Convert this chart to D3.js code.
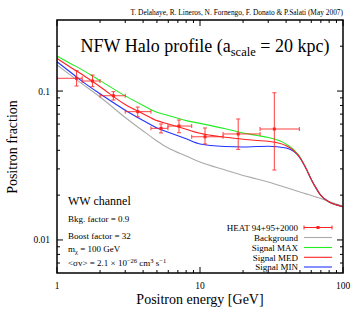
<!DOCTYPE html>
<html><head><meta charset="utf-8">
<script src="https://cdn.jsdelivr.net/npm/d3@7"></script>
<style>body{margin:0;background:#fff;}</style>
</head><body><svg id="c" width="360" height="315" font-family="'Liberation Serif', 'DejaVu Serif', serif"></svg>
<script>
// ---- data ----
const heatE     = [1.37, 1.77, 2.48, 3.67, 5.34, 7.13, 10.84, 18.5, 33.1];
const heatELow  = [1.0, 1.5, 2.0, 3.0, 4.54, 5.97, 8.75, 14.5, 26.3];
const heatEHigh = [1.5, 2.0, 3.0, 4.54, 5.97, 8.75, 14.5, 26.3, 49.5];
const heatF     = [0.1218, 0.1168, 0.0930, 0.0727, 0.0562, 0.0582, 0.0493, 0.0515, 0.0556];
const heatFLow  = [0.1081, 0.1070, 0.0871, 0.0672, 0.0523, 0.0525, 0.0441, 0.0406, 0.0295];
const heatFHigh = [0.1370, 0.1281, 0.0990, 0.0781, 0.0601, 0.0639, 0.0565, 0.0649, 0.0974];

const curveE   = [1, 1.25, 1.5, 2, 3, 4, 5, 6, 8, 10, 15, 20, 25, 30, 40, 50, 55, 60, 65, 70, 80, 90, 100];
const bgF      = [0.1496,0.1274,0.1117,0.0912,0.0664,0.0539,0.0462,0.0414,0.0366,0.0334,0.0295,0.0271,0.0257,0.0245,0.0225,0.0210,0.0204,0.0199,0.0194,0.0190,0.0181,0.0174,0.0168];
const maxF     = [0.1719,0.1527,0.1387,0.1175,0.0928,0.0801,0.0720,0.0685,0.0633,0.0607,0.0559,0.0523,0.0503,0.0488,0.0440,0.0360,0.0304,0.0255,0.0222,0.0199,0.0180,0.0172,0.0167];
const medF     = [0.1654,0.1441,0.1290,0.1069,0.0812,0.0704,0.0633,0.0601,0.0554,0.0520,0.0489,0.0475,0.0466,0.0460,0.0430,0.0358,0.0304,0.0255,0.0222,0.0199,0.0180,0.0172,0.0167];
const minF     = [0.1574,0.1332,0.1162,0.0958,0.0743,0.0634,0.0565,0.0529,0.0478,0.0441,0.0424,0.0421,0.0424,0.0426,0.0414,0.0355,0.0303,0.0255,0.0222,0.0199,0.0180,0.0172,0.0167];

const xTicks = [1, 10, 100];
const xTickLabels = ["1", "10", "100"];
const yTicks = [0.01, 0.1];
const yTickLabels = ["0.01", "0.1"];

const legendNames = ["HEAT 94+95+2000", "Background", "Signal MAX", "Signal MED", "Signal MIN"];

// ---- layout ----
const L = 57, R = 343, T = 20, B = 273;
const svg = d3.select("#c");
const x = d3.scaleLog().domain([1, 100]).range([L, R]);
const y = d3.scaleLog().domain([0.006, 0.3]).range([B, T]);

const colBg = "#aaaaaa", colMax = "#22ee22", colMed = "#ff2222", colMin = "#2233ff", colHeat = "#ff2020";

svg.append("clipPath").attr("id","clip").append("rect").attr("x",L).attr("y",T).attr("width",R-L).attr("height",B-T);

// ticks
const g = svg.append("g").attr("stroke","#000").attr("stroke-width",1);
const xMinor = [];
[1,10].forEach(d=>{for(let k=2;k<=9;k++) xMinor.push(d*k);});
const yMinor = [0.007,0.008,0.009,0.02,0.03,0.04,0.05,0.06,0.07,0.08,0.09,0.2];
function xt(v, len){
  g.append("line").attr("x1",x(v)).attr("x2",x(v)).attr("y1",B).attr("y2",B-len);
  g.append("line").attr("x1",x(v)).attr("x2",x(v)).attr("y1",T).attr("y2",T+len);
}
function yt(v, len){
  g.append("line").attr("y1",y(v)).attr("y2",y(v)).attr("x1",L).attr("x2",L+len);
  g.append("line").attr("y1",y(v)).attr("y2",y(v)).attr("x1",R).attr("x2",R-len);
}
xMinor.forEach(v=>xt(v,3)); xTicks.forEach(v=>xt(v,6));
yMinor.forEach(v=>yt(v,3)); yTicks.forEach(v=>yt(v,6));

// tick labels
svg.selectAll(".xl").data(xTicks).enter().append("text")
  .attr("x",d=>x(d)).attr("y",289).attr("text-anchor","middle").attr("font-size",9.5).text((d,i)=>xTickLabels[i]);
svg.selectAll(".yl").data(yTicks).enter().append("text")
  .attr("x",50).attr("y",d=>y(d)+3.5).attr("text-anchor","end").attr("font-size",9.5).text((d,i)=>yTickLabels[i]);

// curves (drawing order: background, max, min, med on top)
const plot = svg.append("g").attr("clip-path","url(#clip)");
const line = d3.line().x(d=>x(d[0])).y(d=>y(d[1])).curve(d3.curveMonotoneX);
[[bgF,colBg],[maxF,colMax],[minF,colMin],[medF,colMed]].forEach(([arr,c])=>{
  plot.append("path").attr("d", line(curveE.map((e,i)=>[e,arr[i]])))
    .attr("fill","none").attr("stroke",c).attr("stroke-width",1.1);
});

// HEAT data with xy error bars
const eb = plot.append("g").attr("stroke",colHeat).attr("stroke-width",1).attr("opacity",0.85);
heatE.forEach((e,i)=>{
  const cx=x(e), cy=y(heatF[i]);
  const x0=x(heatELow[i]), x1=x(heatEHigh[i]), y0=y(heatFLow[i]), y1=y(heatFHigh[i]);
  eb.append("line").attr("x1",x0).attr("x2",x1).attr("y1",cy).attr("y2",cy);
  eb.append("line").attr("x1",cx).attr("x2",cx).attr("y1",y0).attr("y2",y1);
  eb.append("line").attr("x1",x0).attr("x2",x0).attr("y1",cy-2).attr("y2",cy+2);
  eb.append("line").attr("x1",x1).attr("x2",x1).attr("y1",cy-2).attr("y2",cy+2);
  eb.append("line").attr("x1",cx-2).attr("x2",cx+2).attr("y1",y0).attr("y2",y0);
  eb.append("line").attr("x1",cx-2).attr("x2",cx+2).attr("y1",y1).attr("y2",y1);
  plot.append("rect").attr("x",cx-1.5).attr("y",cy-1.5).attr("width",3).attr("height",3).attr("fill",colHeat);
});

// frame
svg.append("rect").attr("x",L).attr("y",T).attr("width",R-L).attr("height",B-T)
  .attr("fill","none").attr("stroke","#000").attr("stroke-width",1.5);

// texts
svg.append("text").attr("x",343).attr("y",15).attr("text-anchor","end").attr("font-size",7.4)
  .text("T. Delahaye, R. Lineros, N. Fornengo, F. Donato & P.Salati (May 2007)");
const ttl = svg.append("text").attr("x",205).attr("y",52).attr("text-anchor","middle").attr("font-size",18);
ttl.append("tspan").text("NFW Halo profile (a");
ttl.append("tspan").attr("font-size",12.5).attr("dy",4).text("scale");
ttl.append("tspan").attr("dy",-4).text(" = 20 kpc)");

svg.append("text").attr("transform","translate(17,147) rotate(-90)").attr("text-anchor","middle")
  .attr("font-size",14).text("Positron fraction");
svg.append("text").attr("x",200).attr("y",304).attr("text-anchor","middle").attr("font-size",14)
  .text("Positron energy [GeV]");

svg.append("text").attr("x",68).attr("y",205).attr("font-size",12).text("WW channel");
svg.append("text").attr("x",68).attr("y",221.5).attr("font-size",9).text("Bkg. factor = 0.9");
svg.append("text").attr("x",68).attr("y",238.5).attr("font-size",9).text("Boost factor = 32");
const mx = svg.append("text").attr("x",68).attr("y",251.5).attr("font-size",9);
mx.append("tspan").text("m"); mx.append("tspan").attr("font-size",6.5).attr("dy",2).text("χ");
mx.append("tspan").attr("dy",-2).text(" = 100 GeV");
const sv = svg.append("text").attr("x",68).attr("y",266).attr("font-size",9);
sv.append("tspan").text("<σv> = 2.1 × 10");
sv.append("tspan").attr("font-size",6.5).attr("dy",-3.5).text("−26");
sv.append("tspan").attr("dy",3.5).text(" cm");
sv.append("tspan").attr("font-size",6.5).attr("dy",-3.5).text("3");
sv.append("tspan").attr("dy",3.5).text(" s");
sv.append("tspan").attr("font-size",6.5).attr("dy",-3.5).text("−1");

// legend
const legY = [227.5, 237.5, 247.5, 257.3, 267];
const legCol = [colHeat, colBg, colMax, colMed, colMin];
const lg = svg.append("g");
legendNames.forEach((n,i)=>{
  lg.append("text").attr("x",298).attr("y",legY[i]+3.2).attr("text-anchor","end").attr("font-size",9).text(n);
  lg.append("line").attr("x1",304).attr("x2",332).attr("y1",legY[i]).attr("y2",legY[i])
    .attr("stroke",legCol[i]).attr("stroke-width",i==0?1:1.1);
});
lg.append("line").attr("x1",304).attr("x2",304).attr("y1",legY[0]-2).attr("y2",legY[0]+2).attr("stroke",colHeat);
lg.append("line").attr("x1",332).attr("x2",332).attr("y1",legY[0]-2).attr("y2",legY[0]+2).attr("stroke",colHeat);
lg.append("rect").attr("x",316.5).attr("y",legY[0]-1.5).attr("width",3).attr("height",3).attr("fill",colHeat);
</script></body></html>
